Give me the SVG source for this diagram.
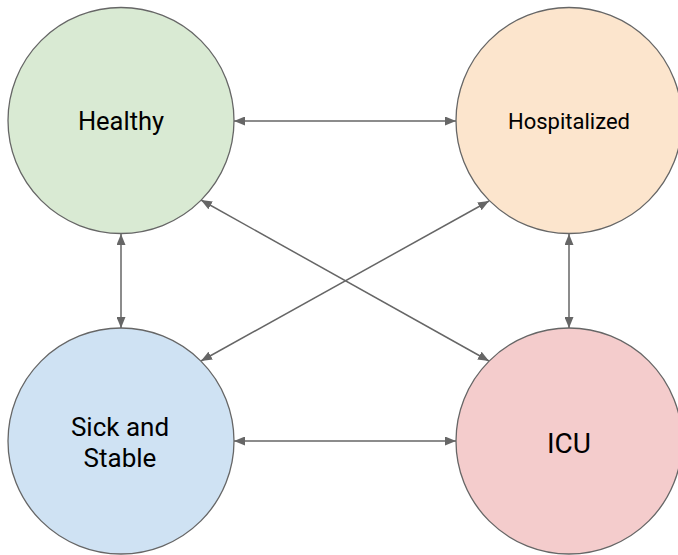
<svg xmlns="http://www.w3.org/2000/svg" width="678" height="555" viewBox="0 0 678 555">
<style>
.node{stroke:#666;stroke-width:1.3}
.lbl{font-family:Roboto,"Liberation Sans",sans-serif;fill:#000;text-anchor:middle}
.edge{stroke:#666;stroke-width:1.5;fill:none;marker-start:url(#ah);marker-end:url(#ah)}
</style>
<defs>
<marker id="ah" viewBox="0 0 11 9" refX="11" refY="4.5" markerWidth="11" markerHeight="9" markerUnits="userSpaceOnUse" orient="auto-start-reverse">
<path d="M0,0 L11,4.5 L0,9 Z" fill="#666"/>
</marker>
</defs>
<rect width="678" height="555" fill="#fff"/>
<g id="connectors">
<line class="edge" x1="234" y1="121" x2="456" y2="121"/>
<line class="edge" x1="234" y1="441" x2="456" y2="441"/>
<line class="edge" x1="121" y1="234" x2="121" y2="328"/>
<line class="edge" x1="569" y1="234" x2="569" y2="328"/>
<line class="edge" x1="201" y1="200" x2="489" y2="361"/>
<line class="edge" x1="489" y1="201" x2="201" y2="361"/>
</g>
<g id="healthy">
<circle class="node" cx="121" cy="120.5" r="113" fill="#d9ead3"/>
<text class="lbl" x="121" y="130" font-size="25.5">Healthy</text>
</g>
<g id="hospitalized">
<circle class="node" cx="569" cy="120.5" r="113" fill="#fce5cd"/>
<text class="lbl" x="569" y="129" font-size="22">Hospitalized</text>
</g>
<g id="sick">
<circle class="node" cx="121" cy="441" r="113" fill="#cfe2f3"/>
<text class="lbl" x="120" y="436" font-size="26">Sick and</text>
<text class="lbl" x="120" y="467" font-size="26">Stable</text>
</g>
<g id="icu">
<circle class="node" cx="569" cy="441" r="113" fill="#f4cccc"/>
<text class="lbl" x="569" y="453" font-size="28">ICU</text>
</g>
</svg>
